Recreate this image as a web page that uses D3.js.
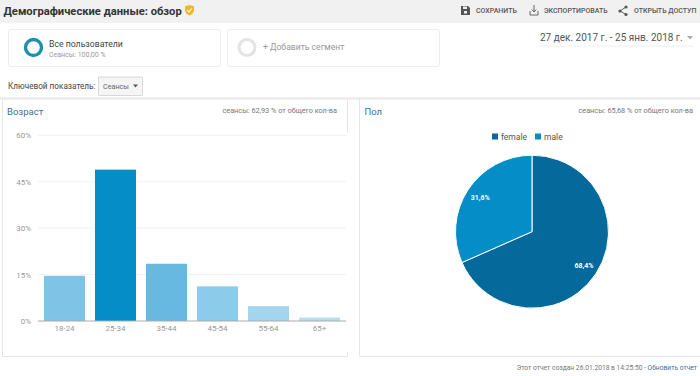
<!DOCTYPE html>
<html>
<head>
<meta charset="utf-8">
<script src="https://cdn.jsdelivr.net/npm/d3@7"></script>
<style>
  html, body { margin: 0; padding: 0; background: #fff; }
  svg { display: block; font-family: Roboto, sans-serif; }
  .axis path, .axis line { display: none; }
  .axis text { fill: #999; font-size: 8px; font-family: Roboto, sans-serif; }
</style>
</head>
<body>
<div id="grafica"></div>
<script>
// datos
const ageGroups = ['18-24', '25-34', '35-44', '45-54', '55-64', '65+']
const ageValues = [14.6, 48.9, 18.5, 11.2, 4.8, 1.1]
const ageTicks = [0, 15, 30, 45, 60]
const genders = ['female', 'male']
const genderValues = [68.4, 31.6]
const genderLabels = ['68,4%', '31,6%']

const ageColors = ['#7fc4e7', '#058dc7', '#67b9e1', '#8ccbea', '#a3d5ee', '#b5ddf1']
const genderColors = ['#056a9b', '#058dc7']

const svg = d3.select('#grafica').append('svg')
  .attr('width', 700)
  .attr('height', 376)

function label(x, y, txt, size, fill, opts) {
  opts = opts || {}
  return svg.append('text')
    .attr('x', x).attr('y', y)
    .attr('font-size', size + 'px')
    .attr('fill', fill)
    .attr('font-weight', opts.weight || 400)
    .attr('text-anchor', opts.anchor || 'start')
    .text(txt)
}

function box(x, y, w, h, stroke) {
  svg.append('rect')
    .attr('x', x + 0.5).attr('y', y + 0.5)
    .attr('width', w).attr('height', h)
    .attr('rx', 2)
    .attr('fill', '#fff')
    .attr('stroke', stroke)
}

// cabecera
svg.append('rect').attr('width', 700).attr('height', 23).attr('fill', '#f1f1f1')
label(3.5, 14.5, 'Демографические данные: обзор', 11.2, '#333', { weight: 700 })
svg.append('path')
  .attr('d', 'M185 6.2 L189.5 5 L194 6.2 L194 10.5 Q193.2 14 189.5 15.5 Q185.8 14 185 10.5 Z')
  .attr('fill', '#eeb92e')
svg.append('path')
  .attr('d', 'M187.3 10 L189 12 L191.8 8.5')
  .attr('fill', 'none').attr('stroke', '#fff').attr('stroke-width', 1.1)

// botones de arriba
svg.append('path')
  .attr('d', 'M461 6 H468 L470 8 V15 H461 Z')
  .attr('fill', '#555')
svg.append('rect').attr('x', 463).attr('y', 6.5).attr('width', 4).attr('height', 2.5).attr('fill', '#eee')
svg.append('rect').attr('x', 464).attr('y', 11).attr('width', 3).attr('height', 2.5).attr('fill', '#eee')
label(476, 13, 'СОХРАНИТЬ', 7, '#555', { weight: 500 })
svg.append('path')
  .attr('d', 'M530 11 V15 H538 V11 M534 5 V12 M531.8 9.5 L534 12 L536.2 9.5')
  .attr('fill', 'none').attr('stroke', '#666')
label(544, 13, 'ЭКСПОРТИРОВАТЬ', 7, '#555', { weight: 500 })
svg.append('path')
  .attr('d', 'M626 7 L620 11 L626 14.5')
  .attr('fill', 'none').attr('stroke', '#666')
svg.selectAll('circle.share')
  .data([[626, 7], [620, 11], [626, 14.5]])
  .enter().append('circle')
  .attr('class', 'share')
  .attr('cx', (d) => d[0]).attr('cy', (d) => d[1])
  .attr('r', 1.6).attr('fill', '#555')
label(634, 13, 'ОТКРЫТЬ ДОСТУП', 7, '#555', { weight: 500 })

// segmentos
box(8, 29, 212, 37, '#ececec')
svg.append('circle').attr('cx', 33.5).attr('cy', 47.5).attr('r', 8)
  .attr('fill', 'none').attr('stroke', '#1f8fae').attr('stroke-width', 3.4)
label(49, 47, 'Все пользователи', 8.7, '#444')
label(49, 57, 'Сеансы: 100,00 %', 7, '#999')

box(227, 29, 212, 37, '#ececec')
svg.append('circle').attr('cx', 247).attr('cy', 47.5).attr('r', 8)
  .attr('fill', 'none').attr('stroke', '#e3e3e3').attr('stroke-width', 3)
label(263, 49.5, '+ Добавить сегмент', 8.6, '#999')

// fechas
label(540, 41, '27 дек. 2017 г. - 25 янв. 2018 г.', 10, '#555')
svg.append('path').attr('d', 'M687 36 H693 L690 39.5 Z').attr('fill', '#aaa')
svg.append('line').attr('x1', 540).attr('x2', 694).attr('y1', 46).attr('y2', 46).attr('stroke', '#eee')

// metrica
label(8, 89, 'Ключевой показатель:', 8.2, '#444')
svg.append('rect').attr('x', 98.5).attr('y', 77).attr('width', 44).attr('height', 18.5)
  .attr('rx', 1).attr('fill', '#f5f5f5').attr('stroke', '#d8d8d8')
label(103, 89, 'Сеансы', 7.2, '#666')
svg.append('path').attr('d', 'M133 84.5 H138 L135.5 87.5 Z').attr('fill', '#555')

// paneles
svg.append('line').attr('x1', 0).attr('x2', 700).attr('y1', 98.5).attr('y2', 98.5).attr('stroke', '#e8e8e8').attr('stroke-width', 2)
svg.append('path').attr('d', 'M2.5 99 V356.5 H347.5 V352 M347.5 99 V133')
  .attr('fill', 'none').attr('stroke', '#e6e6e6')
svg.append('path').attr('d', 'M359.5 99 V356.5 H700')
  .attr('fill', 'none').attr('stroke', '#e6e6e6')

label(7, 114.5, 'Возраст', 9.5, '#3f6f95')
label(337, 113, 'сеансы: 62,93 % от общего кол-ва', 7.3, '#777', { anchor: 'end' })
label(364.5, 114.5, 'Пол', 9.5, '#3f6f95')
label(693, 113, 'сеансы: 65,68 % от общего кол-ва', 7.3, '#777', { anchor: 'end' })

// grafica de barras
const margin = { left: 38, right: 354, top: 135.3, bottom: 55 }
const ancho = 700 - margin.left - margin.right
const alto = 376 - margin.top - margin.bottom

const g = svg.append('g')
  .attr('transform', `translate(${margin.left}, ${margin.top})`)

const x = d3.scaleBand()
  .domain(ageGroups)
  .range([0, ancho])
  .paddingInner(0.196)
  .paddingOuter(0.118)

const y = d3.scaleLinear()
  .domain([0, 60])
  .range([alto, 0])

g.selectAll('line.grid')
  .data(ageTicks.slice(1))
  .enter().append('line')
  .attr('class', 'grid')
  .attr('x1', 0).attr('x2', ancho)
  .attr('y1', (d) => y(d)).attr('y2', (d) => y(d))
  .attr('stroke', '#f2f2f2')

g.selectAll('rect.bar')
  .data(ageValues)
  .enter().append('rect')
  .attr('class', 'bar')
  .attr('x', (d, i) => x(ageGroups[i]))
  .attr('y', (d) => y(d))
  .attr('width', x.bandwidth())
  .attr('height', (d) => alto - y(d))
  .attr('fill', (d, i) => ageColors[i])

g.append('line')
  .attr('x1', 0).attr('x2', ancho)
  .attr('y1', alto).attr('y2', alto)
  .attr('stroke', '#aaa')

g.append('g')
  .attr('class', 'axis')
  .call(d3.axisLeft(y).tickValues(ageTicks).tickFormat((d) => d + '%').tickSize(0).tickPadding(7))

g.append('g')
  .attr('class', 'axis')
  .attr('transform', `translate(0, ${alto})`)
  .call(d3.axisBottom(x).tickSize(0).tickPadding(4))

// grafica de pastel
const radio = 76.5
const pieG = svg.append('g').attr('transform', 'translate(532, 231.7)')

const pie = d3.pie().sort(null)(genderValues)
const arc = d3.arc().innerRadius(0).outerRadius(radio)
const arcLabel = d3.arc().innerRadius(radio * 0.81).outerRadius(radio * 0.81)

pieG.selectAll('path')
  .data(pie)
  .enter().append('path')
  .attr('d', arc)
  .attr('fill', (d, i) => genderColors[i])
  .attr('stroke', '#fff')
  .attr('stroke-width', 1)

pieG.selectAll('text')
  .data(pie)
  .enter().append('text')
  .attr('transform', (d) => `translate(${arcLabel.centroid(d)})`)
  .attr('text-anchor', 'middle')
  .attr('dy', '0.35em')
  .attr('font-size', '7px')
  .attr('font-weight', 700)
  .attr('fill', '#fff')
  .text((d, i) => genderLabels[i])

// leyenda
const legendX = [492, 535]
svg.selectAll('rect.legend')
  .data(genders)
  .enter().append('rect')
  .attr('class', 'legend')
  .attr('x', (d, i) => legendX[i]).attr('y', 133.5)
  .attr('width', 6).attr('height', 6)
  .attr('fill', (d, i) => genderColors[i])
svg.selectAll('text.legend')
  .data(genders)
  .enter().append('text')
  .attr('class', 'legend')
  .attr('x', (d, i) => legendX[i] + 9).attr('y', 139.5)
  .attr('font-size', '8.5px')
  .attr('fill', '#555')
  .text((d) => d)

// pie de pagina
svg.append('text')
  .attr('x', 697).attr('y', 369.5)
  .attr('text-anchor', 'end')
  .attr('font-size', '6.7px')
  .attr('fill', '#777')
  .call((t) => {
    t.append('tspan').text('Этот отчет создан 26.01.2018 в 14:25:50 - ')
    t.append('tspan').attr('fill', '#3f6f95').text('Обновить отчет')
  })
</script>
</body>
</html>
